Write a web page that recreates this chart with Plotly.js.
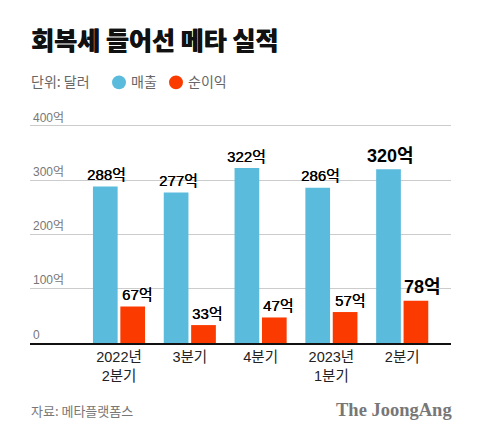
<!DOCTYPE html>
<html><head><meta charset="utf-8">
<script src="https://cdn.plot.ly/plotly-3.0.1.min.js"></script>
<style>html,body{margin:0;padding:0;background:#fff}</style></head>
<body><div id="chart" style="width:480px;height:440px"></div>
<script>
const categories = ['2022년<br>2분기','3분기','4분기','2023년<br>1분기','2분기'];
const revenue = [288,277,322,286,320];
const profit = [67,33,47,57,78];
const yTicks = [0,100,200,300,400];
const yTickLabels = ['0','100억','200억','300억','400억'];
const seriesNames = ['매출','순이익'];
const unitText = '단위: 달러';
const titleText = '회복세 들어선 메타 실적';
const sourceText = '자료: 메타플랫폼스';
const brandText = 'The JoongAng';

const FONT = '"Liberation Sans","Noto Sans CJK KR",sans-serif';
const KFONT = '"Noto Sans CJK KR","Liberation Sans",sans-serif';
const BLUE = '#5bbbdd', RED = '#fb3a00';
const L=30,R=451,T=103.7,B=343.5;
const px=x=>(x-L)/(R-L), py=y=>(B-y)/(B-T);

function barTrace(name,vals,color){
  return {type:'bar',name,x:categories,y:vals,marker:{color},hoverinfo:'x+y',showlegend:false};
}
// value labels sit slightly right of their bars in the original
const barPitch = 13.7;
const blueNudge = [1.5,2.7,0,2.7,1.5];
const redNudge = [4.5,4.3,4.3,5,7];
function valueLabels(vals,dir,nudge){
  const last=vals.length-1;
  return vals.map((v,i)=>({
    xref:'x',yref:'y',x:categories[i],y:v,text:v+'억',showarrow:false,
    xanchor:'center',yanchor:'middle',
    xshift:dir*barPitch+nudge[i],yshift:i===last?13.5:12,
    font:{family:FONT,color:'#000',size:i===last?18:15,weight:i===last?700:400,
      shadow:i===last?'none':'0.3px 0 0 #000'}
  }));
}
function txt(x,y,text,size,color,extra){
  return Object.assign({xref:'paper',yref:'paper',x:px(x),y:py(y),text,showarrow:false,
    xanchor:'left',yanchor:'middle',font:{family:KFONT,size,color}},extra||{});
}
const layout={
  width:480,height:440,paper_bgcolor:'#fff',plot_bgcolor:'#fff',
  margin:{l:L,r:480-R,t:T,b:440-B,pad:0},
  showlegend:false,barmode:'group',bargap:0.226,bargroupgap:0.0985,
  font:{family:FONT},
  title:{text:titleText,x:31/480,xanchor:'left',y:1-41/440,yanchor:'middle',
    font:{family:KFONT,size:25,color:'#111',weight:900,shadow:'0.5px 0 0 #111'}},
  xaxis:{type:'category',range:[-1.257,4.689],showline:true,linecolor:'#111',linewidth:1.5,
    showgrid:false,ticks:'',tickfont:{family:FONT,size:14.5,color:'#222'},zeroline:false,fixedrange:true,automargin:false},
  yaxis:{range:[0,440],tickvals:yTicks,ticktext:yTickLabels,ticklabelposition:'inside top',
    showgrid:true,gridcolor:'#cccccc',gridwidth:1,zeroline:false,showline:false,ticks:'',
    tickfont:{family:FONT,size:12,color:'#777'},fixedrange:true,automargin:false},
  shapes:[
    {type:'circle',xref:'paper',yref:'paper',x0:px(112),x1:px(126),y0:py(89),y1:py(75),fillcolor:BLUE,line:{width:0}},
    {type:'circle',xref:'paper',yref:'paper',x0:px(169),x1:px(183),y0:py(89),y1:py(75),fillcolor:RED,line:{width:0}}
  ],
  annotations:[
    ...valueLabels(revenue,-1,blueNudge),
    ...valueLabels(profit,1,redNudge),
    txt(29,81,unitText,14,'#666'),
    txt(129,81,seriesNames[0],14,'#666'),
    txt(186,81,seriesNames[1],14,'#666'),
    txt(29,411,sourceText,13,'#777'),
    Object.assign(txt(454,411,brandText,18,'#777',{xanchor:'right'}),{font:{family:'"Liberation Serif",serif',size:18.5,color:'#777',weight:700}})
  ]
};
Plotly.newPlot('chart',[barTrace(seriesNames[0],revenue,BLUE),barTrace(seriesNames[1],profit,RED)],layout,{displayModeBar:false,staticPlot:true});
</script></body></html>
